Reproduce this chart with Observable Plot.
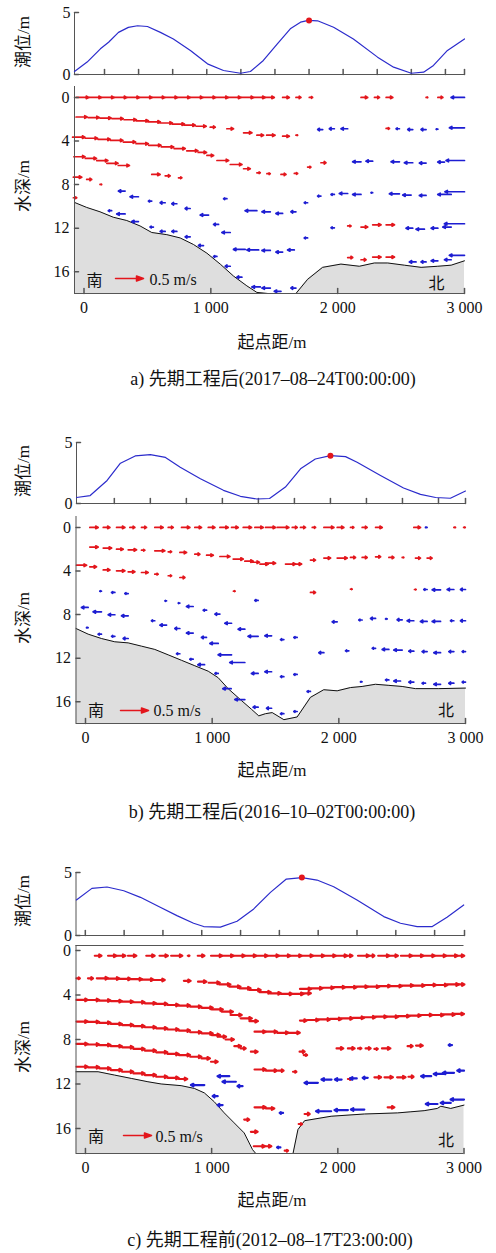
<!DOCTYPE html>
<html lang="zh">
<head>
<meta charset="utf-8">
<script src="https://cdn.jsdelivr.net/npm/d3@7"></script>
<script src="https://cdn.jsdelivr.net/npm/@observablehq/plot@0.6"></script>
<style>
html,body{margin:0;padding:0;background:#fff;}
#root{position:relative;width:496px;height:1253px;overflow:hidden;background:#fff;
 font-family:"Liberation Serif","Noto Sans CJK SC",serif;color:#111;}
#root svg{position:absolute;left:0;}
.lbl{position:absolute;white-space:nowrap;transform:translate(-50%,-50%);line-height:1;}
.rot{transform:translate(-50%,-50%) rotate(-90deg);}
</style>
</head>
<body>
<div id="root"></div>
<script>
// ---------------- shared tick values / labels ----------------
const xTickValues = [0, 1000, 2000, 3000];
const depthTickValues = [0, 4, 8, 12, 16];
const tideTickLabels = [0, 5];
const tideLevelDomain = [0, 5];
const xDomain = [-75, 3000];
const xAxisTitle = "起点距/m";
const tideAxisTitle = "潮位/m";
const depthAxisTitle = "水深/m";
const southLabel = "南";
const northLabel = "北";
const refSpeed = [0.5];
const refSpeedLabel = "0.5 m/s";
const captionA = "a) 先期工程后(2017–08–24T00:00:00)";
const captionB = "b) 先期工程后(2016–10–02T00:00:00)";
const captionC = "c) 先期工程前(2012–08–17T23:00:00)";

// ---------------- panel a ----------------
const tideA_domain = [0.12, 11.56];
const tideA_ticks = [1,2,3,4,5,6,7,8,9,10,11,11.56];
const tideA_t = [0.12,0.49,0.88,1.12,1.41,1.70,1.97,2.26,2.64,3.02,3.52,4.02,4.49,4.99,5.28,5.66,6.07,6.45,6.75,6.98,7.25,7.72,8.30,9.01,9.48,10.0,10.36,10.65,11.06,11.56];
const tideA_h = [0.24,1.0,2.07,2.6,3.4,3.8,3.93,3.87,3.4,2.87,1.94,0.86,0.32,0.1,0.24,1.13,2.47,3.68,4.22,4.36,4.33,3.81,2.87,1.4,0.59,0.1,0.19,0.73,1.94,2.87];
const tideA_now = [7.0, 4.36];
const depthA_domain = [-1, 18];
const bedA_x = [-75,21,126,231,337,442,534,653,758,863,969,1074,1179,1284,1363,1450,1560,1671,1763,1881,2026,2171,2289,2395,2526,2658,2789,2895,3000];
const bedA_z = [9.64,10.1,10.5,11.0,11.3,11.8,12.4,12.6,12.9,13.5,14.3,15.3,16.4,17.3,17.9,18.0,18.0,18.0,16.7,15.6,15.3,15.5,15.2,15.2,15.4,15.6,15.5,15.4,15.0];
// [起点距 m, 水深 m, 流速 m/s (+ 向北/右, − 向南/左)]
const velA0 = [[-60,0,0.22],[40,0,0.22],[140,0,0.22],[240,0,0.22],[340,0,0.22],[440,0,0.22],[540,0,0.22],[640,0,0.22],[740,0,0.22],[840,0,0.22],[940,0,0.22],[1040,0,0.22],[1140,0,0.22],[1240,0,0.22],[1340,0,0.2],[1421,0,0.18],[1566,0,0.12],[1671,0,0.09],[1776,0,0.06],[2184,0,0.12],[2290,0,0.09],[2382,0,0.12],[2697,0,0.03],[2790,0,0.09],[3000,0,-0.24]];
const velA1 = [[-63,1.8,0.2],[32,1.85,0.2],[126,1.9,0.2],[221,1.95,0.2],[316,2.05,0.22],[411,2.15,0.22],[505,2.25,0.22],[600,2.35,0.22],[695,2.45,0.22],[789,2.55,0.2],[884,2.65,0.18],[995,2.73,0.09],[1126,2.88,0.12],[1258,3.25,0.15],[1363,3.47,0.12],[1440,3.47,0.15],[1566,3.56,0.12],[1671,3.47,0.03],[1882,2.95,-0.09],[1974,2.88,-0.09],[2079,2.88,-0.12],[2382,2.85,0.06],[2487,2.88,-0.06],[2592,2.95,-0.09],[2697,2.95,-0.09],[2790,2.92,-0.03],[3000,2.79,-0.27]];
const velA2 = [[-90,3.65,0.22],[10,3.75,0.22],[110,3.85,0.22],[210,3.95,0.22],[310,4.1,0.22],[410,4.25,0.22],[510,4.4,0.22],[610,4.55,0.22],[710,4.7,0.2],[810,4.9,0.2],[900,5.05,0.15],[969,5.33,0.12],[1048,5.79,0.21],[1153,6.16,0.21],[1258,6.55,0.12],[1363,6.92,0.06],[1442,7.0,0.06],[1553,7.07,0.09],[1658,6.98,0.06],[1763,6.4,0.06],[1868,6.0,0.09],[2184,5.91,-0.15],[2276,5.85,-0.12],[2487,5.91,-0.15],[2592,6.0,-0.15],[2697,6.03,-0.12],[2842,5.94,-0.12],[3000,5.79,-0.33]];
const velA3 = [[-80,5.45,0.2],[10,5.6,0.2],[100,5.8,0.2],[180,6.05,0.2],[270,6.25,0.2],[534,7.07,0.15],[640,7.2,0.09],[745,7.38,0.06],[1127,9.3,-0.06],[1363,10.4,-0.21],[1469,10.5,-0.15],[1566,10.65,-0.12],[1671,10.5,-0.09],[1763,9.67,-0.06],[1868,9.06,-0.06],[1974,8.91,-0.06],[2079,8.82,-0.15],[2184,8.91,-0.15],[2276,8.75,-0.03],[2487,8.85,-0.18],[2579,8.97,-0.15],[2697,9.0,-0.12],[2895,8.91,-0.24],[3000,8.66,-0.35]];
const velA4 = [[-84,7.32,0.15],[21,7.53,0.09],[126,7.99,0.03],[324,8.6,-0.12],[429,9.12,-0.15],[534,9.52,-0.06],[640,9.67,-0.09],[732,9.76,-0.09],[837,10.2,-0.09],[982,10.8,-0.15],[1061,11.66,-0.09],[1153,12.4,-0.15],[1271,13.95,-0.21],[1377,14.0,-0.21],[1469,14.05,-0.15],[1566,14.2,-0.12],[1658,14.0,-0.12],[1763,12.9,-0.06],[1974,11.97,-0.06],[2079,11.8,0.06],[2184,11.9,0.12],[2276,11.7,0.15],[2382,11.7,0.15],[2592,12.0,-0.12],[2684,12.1,-0.15],[2790,12.0,-0.12],[2895,11.9,-0.15],[3000,11.6,-0.36]];
const velA5 = [[-84,9.21,0.06],[218,10.4,-0.06],[324,10.7,-0.15],[429,11.4,-0.12],[547,11.9,-0.06],[640,12.3,-0.09],[732,12.3,-0.09],[837,12.8,-0.09],[942,13.6,-0.09],[1048,14.6,-0.06],[1153,15.5,-0.09],[1245,16.5,-0.09],[1390,17.4,-0.15],[1469,17.5,-0.15],[1553,17.8,-0.12],[1671,17.5,-0.09],[2079,14.7,0.09],[2184,14.9,0.09],[2276,14.66,0.15],[2382,14.66,0.15],[2618,15.1,-0.12],[2697,15.1,-0.09],[2790,15.0,-0.12],[2895,14.9,-0.12],[3000,14.5,-0.27]];

// ---------------- panel b ----------------
const tideB_domain = [-0.05, 10.75];
const tideB_ticks = [1,2,3,4,5,6,7,8,9,10,10.75];
const tideB_t = [-0.05,0.33,0.80,1.17,1.58,2.0,2.42,2.83,3.39,4.03,4.5,4.96,5.31,5.75,6.17,6.58,7.0,7.42,7.74,8.39,9.03,9.5,9.92,10.33,10.75];
const tideB_h = [0.49,0.65,1.89,3.3,3.9,4.0,3.78,2.97,2.03,1.08,0.59,0.37,0.41,1.35,2.84,3.65,3.92,3.84,3.38,2.30,1.27,0.75,0.49,0.43,1.02];
const tideB_now = [7.0, 3.92];
const depthB_domain = [-1, 18];
const bedB_x = [-75,21,126,231,337,442,547,653,758,863,969,1048,1126,1232,1311,1368,1421,1474,1566,1671,1776,1881,1987,2092,2184,2289,2395,2500,2605,2789,3000];
const bedB_z = [9.28,9.8,10.2,10.5,10.6,10.9,11.2,11.7,12.2,12.7,13.2,13.8,14.8,15.9,16.7,17.3,17.1,17.0,17.65,17.4,15.6,14.9,15.0,14.7,14.6,14.4,14.5,14.6,14.8,14.8,14.75];
const velB0 = [[34,0,0.15],[140,0,0.12],[245,0,0.15],[350,0,0.09],[442,0,0.09],[547,0,0.15],[653,0,0.09],[758,0,0.15],[863,0,0.12],[969,0,0.12],[1061,0,0.15],[1153,0,0.12],[1245,0,0.15],[1337,0,0.15],[1421,0,0.18],[1513,0,0.21],[1632,0,0.09],[1697,0,0.09],[1790,0,0.06],[1882,0,0.18],[1987,0,0.12],[2092,0,0.06],[2184,0,0.09],[2290,0,0.12],[2592,0,0.12],[2697,0,-0.03],[2908,0,0.03],[2985,0,0.03]];
const velB1 = [[34,1.81,0.15],[140,1.9,0.15],[245,2.0,0.12],[337,2.06,0.15],[442,2.09,0.06],[547,2.15,0.18],[653,2.24,0.06],[745,2.3,0.12],[863,2.46,0.09],[956,2.55,0.12],[1061,2.67,0.18],[1166,2.91,0.18],[1258,3.1,0.15],[1320,3.2,0.12],[1377,3.37,0.15],[1421,3.28,0.18],[1579,3.37,0.18],[1640,3.37,0.15],[1776,3.0,0.09],[1882,2.82,0.12],[1987,2.82,0.18],[2092,2.76,0.09],[2184,2.76,0.09],[2290,2.7,0.09],[2395,2.76,0.09],[2500,2.76,0.03],[2605,2.82,0.09],[2697,2.82,0.09]];
const velB2 = [[-71,3.47,0.18],[34,3.62,0.12],[140,3.9,0.12],[245,3.99,0.15],[337,4.08,0.12],[442,4.14,0.12],[547,4.29,0.06],[653,4.44,0.06],[745,4.6,0.09],[1168,5.85,0.03],[1363,6.7,-0.06],[1776,5.97,0.09],[2092,5.67,0.03],[2597,5.7,0.03],[2697,5.7,-0.06],[2803,5.73,-0.15],[2908,5.7,-0.12],[3000,5.7,-0.09]];
const velB3 = [[126,5.85,-0.03],[232,5.97,-0.06],[337,6.07,-0.06],[640,6.74,-0.03],[745,6.95,-0.03],[850,7.26,-0.12],[956,7.6,-0.06],[1061,7.96,-0.09],[1153,8.8,-0.12],[1258,9.34,-0.12],[1363,10.0,-0.18],[1469,9.95,-0.12],[1566,10.3,-0.06],[1671,10.1,-0.06],[1987,8.67,-0.09],[2184,8.5,-0.06],[2290,8.36,-0.09],[2382,8.4,-0.03],[2500,8.48,-0.09],[2592,8.57,-0.12],[2697,8.63,-0.12],[2803,8.63,-0.15],[2908,8.57,-0.06],[3000,8.57,-0.09]];
const velB4 = [[21,7.35,-0.12],[126,7.75,-0.15],[232,8.02,-0.12],[337,8.12,-0.12],[547,8.57,-0.06],[640,8.97,-0.12],[745,9.28,-0.09],[850,9.7,-0.12],[955,10.1,-0.09],[1048,10.65,-0.15],[1153,11.7,-0.24],[1258,12.4,-0.27],[1363,13.4,-0.12],[1469,13.25,-0.12],[1566,13.7,-0.06],[1671,13.5,-0.06],[1882,11.5,-0.09],[2079,11.33,-0.06],[2290,11.1,-0.06],[2395,11.2,-0.12],[2500,11.26,-0.15],[2592,11.36,-0.09],[2697,11.4,-0.09],[2803,11.5,-0.12],[2908,11.4,-0.09],[3000,11.4,-0.06]];
const velB5 = [[21,9.2,-0.03],[126,9.8,-0.06],[232,10.0,-0.06],[337,10.2,-0.09],[745,11.6,-0.06],[850,12.1,-0.06],[940,12.6,-0.12],[1048,13.4,-0.06],[1150,14.8,-0.15],[1258,15.8,-0.18],[1363,16.5,-0.09],[1469,16.6,-0.09],[1566,17.1,-0.06],[1671,16.9,-0.06],[1776,15.06,-0.06],[2184,14.17,-0.03],[2395,14.0,-0.06],[2487,14.1,-0.12],[2592,14.2,-0.09],[2684,14.3,-0.06],[2803,14.4,-0.12],[2908,14.3,-0.09],[3000,14.2,-0.06]];

// ---------------- panel c ----------------
const tideC_domain = [0.76, 10.77];
const tideC_ticks = [1,2,3,4,5,6,7,8,9,10,10.77];
const tideC_t = [0.77,1.17,1.56,1.99,2.42,2.93,3.36,3.79,4.05,4.48,4.91,5.34,5.77,6.18,6.58,6.97,7.40,8.0,8.69,9.12,9.55,9.94,10.32,10.75];
const tideC_h = [2.82,3.74,3.85,3.55,3.03,2.24,1.58,0.97,0.71,0.66,1.13,2.11,3.42,4.48,4.6,4.4,3.87,2.82,1.5,0.97,0.71,0.71,1.45,2.42];
const tideC_now = [6.58, 4.6];
const depthC_domain = [-0.45, 18.25];
const bedC_x = [-75,100,231,363,495,600,758,863,942,1021,1100,1179,1258,1324,1350,1645,1684,1737,1947,2210,2474,2579,2684,2789,2816,2895,3000];
const bedC_z = [10.9,10.9,11.2,11.5,11.8,12.0,12.15,12.4,12.8,13.6,14.6,15.5,16.4,17.9,18.25,18.25,16.1,15.3,14.9,14.7,14.6,14.5,14.4,14.2,14.0,14.2,13.9];
const velC0 = [[74,0.47,0.12],[179,0.47,0.15],[250,0.47,0.15],[337,0.47,0.15],[482,0.47,0.15],[587,0.47,0.15],[679,0.47,0.2],[811,0.47,0.03],[890,0.47,0.12],[995,0.47,0.2],[1085,0.47,0.2],[1175,0.47,0.2],[1265,0.47,0.2],[1355,0.47,0.2],[1445,0.47,0.2],[1535,0.47,0.2],[1625,0.47,0.2],[1715,0.47,0.2],[1805,0.47,0.2],[1895,0.47,0.2],[1985,0.47,0.2],[2050,0.47,0.15],[2160,0.47,0.2],[2250,0.47,0.09],[2320,0.47,0.2],[2410,0.47,0.15],[2500,0.47,0.2],[2590,0.47,0.2],[2680,0.47,0.2],[2770,0.47,0.2],[2860,0.47,0.2],[2940,0.47,0.14]];
const velC1 = [[-71,2.5,0.06],[20,2.5,0.09],[90,2.5,0.2],[180,2.52,0.2],[270,2.55,0.2],[360,2.58,0.2],[450,2.62,0.2],[540,2.65,0.2],[780,2.73,0.12],[892,2.8,0.15],[976,2.9,0.2],[1060,3.05,0.2],[1140,3.25,0.2],[1220,3.4,0.2],[1300,3.55,0.2],[1380,3.75,0.2],[1460,3.85,0.2],[1550,3.9,0.2],[1640,3.9,0.2],[1720,3.85,0.15],[1700,3.45,0.2],[1790,3.4,0.2],[1880,3.35,0.2],[1970,3.3,0.2],[2060,3.3,0.2],[2150,3.25,0.2],[2240,3.25,0.2],[2330,3.2,0.2],[2420,3.2,0.2],[2510,3.15,0.2],[2600,3.15,0.2],[2690,3.1,0.2],[2780,3.1,0.2],[2870,3.05,0.2],[2950,3.05,0.12]];
const velC2 = [[-71,4.44,0.2],[20,4.45,0.2],[110,4.5,0.2],[200,4.55,0.2],[290,4.6,0.2],[380,4.65,0.2],[470,4.75,0.2],[560,4.8,0.2],[650,4.9,0.2],[740,4.95,0.2],[830,5.05,0.2],[920,5.15,0.2],[1000,5.3,0.2],[1080,5.5,0.2],[1150,5.8,0.2],[1230,6.1,0.2],[1300,6.35,0.15],[1340,7.3,0.2],[1430,7.3,0.2],[1520,7.4,0.2],[1610,7.4,0.2],[1700,6.3,0.12],[1760,6.25,0.2],[1850,6.2,0.2],[1940,6.15,0.2],[2030,6.1,0.2],[2120,6.05,0.2],[2210,6.0,0.2],[2300,5.95,0.2],[2390,5.95,0.2],[2480,5.9,0.2],[2570,5.85,0.2],[2660,5.8,0.2],[2750,5.8,0.2],[2840,5.75,0.2],[2920,5.7,0.18]];
const velC3 = [[-71,6.39,0.2],[20,6.42,0.2],[110,6.5,0.2],[200,6.6,0.2],[290,6.7,0.2],[380,6.8,0.2],[470,6.9,0.2],[560,7.0,0.2],[650,7.1,0.2],[740,7.2,0.2],[830,7.35,0.2],[920,7.45,0.2],[1000,7.6,0.15],[1048,7.75,0.15],[1110,8.0,0.15],[1180,8.6,0.12],[1230,8.8,0.09],[1311,9.1,0.12],[1340,10.7,0.2],[1430,10.8,0.2],[1530,10.8,0.09],[1645,10.9,0.06],[1697,9.1,0.09],[1730,9.4,0.06],[1990,8.8,0.12],[2080,8.8,0.12],[2160,8.8,0.06],[2220,8.8,0.09],[2290,8.85,0.06],[2350,8.8,0.15],[2553,8.6,0.09],[2620,8.55,0.12],[2905,8.5,-0.06]];
const velC4 = [[-71,8.4,0.2],[20,8.45,0.2],[110,8.5,0.2],[200,8.6,0.2],[290,8.7,0.2],[380,8.85,0.2],[470,9.0,0.2],[560,9.15,0.2],[650,9.3,0.2],[740,9.4,0.2],[830,9.55,0.2],[920,9.7,0.15],[995,10.0,0.12],[1140,11.3,-0.21],[1192,11.8,-0.24],[1245,12.2,-0.09],[1340,14.1,0.2],[1430,14.2,0.15],[1566,14.6,-0.06],[1842,11.9,-0.24],[1950,11.6,-0.18],[2030,11.6,-0.12],[2080,11.55,0.06],[2150,11.5,-0.12],[2237,11.45,-0.09],[2290,11.4,0.12],[2370,11.4,0.15],[2470,11.4,0.15],[2560,11.35,0.09],[2740,11.3,-0.18],[2840,11.1,-0.18],[2921,11.0,-0.2],[3000,10.8,-0.12]];
const velC5 = [[-71,10.45,0.2],[20,10.5,0.2],[110,10.6,0.2],[200,10.75,0.2],[290,10.9,0.2],[380,11.05,0.2],[470,11.2,0.2],[560,11.35,0.2],[650,11.45,0.2],[740,11.55,0.15],[942,12.1,-0.24],[1048,13.1,-0.09],[1087,13.9,-0.09],[1258,15.2,0.09],[1311,16.3,0.12],[1334,17.6,0.2],[1420,17.6,0.12],[1545,17.7,-0.06],[1579,18.0,0.06],[1690,15.6,0.06],[1737,14.7,0.09],[1947,14.45,-0.27],[2080,14.35,-0.24],[2210,14.3,-0.24],[2395,14.1,0.12],[2790,13.8,-0.21],[2895,13.7,-0.18],[3000,13.4,-0.24]];

// ---------------- styling ----------------
const W = 496;
const RED = "#e3161c", BLUE = "#1d1dd2", TIDE = "#2b2bcc", AXIS = "#555", BED = "#dedede";
const FONT = '"Liberation Serif","Noto Sans CJK SC",serif';
const tickShape = {draw(ctx, l) { ctx.moveTo(0, 0); ctx.lineTo(0, -l); }};
// small-headed arrow for the velocity dashes
const dashShape = {draw(ctx, l) {
  const h = Math.min(2.5, l * 0.35), w = Math.min(1.3, l * 0.25);
  ctx.moveTo(0, 0); ctx.lineTo(0, -l);
  ctx.moveTo(-w, h - l); ctx.lineTo(0, -l); ctx.lineTo(w, h - l);
}};
// legend arrow with a filled head
const legendShape = {draw(ctx, l) {
  ctx.moveTo(0, 0); ctx.lineTo(0, -l + 6);
  ctx.moveTo(-2.6, -l + 7); ctx.lineTo(0, -l); ctx.lineTo(2.6, -l + 7); ctx.closePath();
}};
const fmt = d => d3.format(",")(d).replace(/,/g, " ");
const style = () => ({fontFamily: FONT, fontSize: "16px", color: "#111", background: "transparent", overflow: "visible"});

const panels = [
  {tideT: tideA_t, tideH: tideA_h, tideNow: tideA_now, tideTicks: tideA_ticks, tideDomain: tideA_domain,
   bedX: bedA_x, bedZ: bedA_z, layers: [velA0, velA1, velA2, velA3, velA4, velA5], yDomain: depthA_domain,
   tideBox: {left: 74, right: 464, top: 12, bottom: 74},
   secBox: {left: 74, right: 464, top: 86, bottom: 293}, topLine: false, sw: 1.7,
   leg: {nan: [20, -12.5], arrow: [41, -15], text: [75, -14], bei: [-28, -10]},
   xlabelY: 342, caption: captionA, captionX: 273, captionY: 379, tideLabelY: 42, depthLabelY: 186},
  {tideT: tideB_t, tideH: tideB_h, tideNow: tideB_now, tideTicks: tideB_ticks, tideDomain: tideB_domain,
   bedX: bedB_x, bedZ: bedB_z, layers: [velB0, velB1, velB2, velB3, velB4, velB5], yDomain: depthB_domain,
   tideBox: {left: 76, right: 465, top: 442, bottom: 503},
   secBox: {left: 75.5, right: 465, top: 516, bottom: 723}, topLine: false, sw: 1.7,
   leg: {nan: [20, -13], arrow: [44.5, -13], text: [77.5, -13], bei: [-19.5, -13]},
   xlabelY: 770, caption: captionB, captionX: 272, captionY: 812, tideLabelY: 471, depthLabelY: 618},
  {tideT: tideC_t, tideH: tideC_h, tideNow: tideC_now, tideTicks: tideC_ticks, tideDomain: tideC_domain,
   bedX: bedC_x, bedZ: bedC_z, layers: [velC0, velC1, velC2, velC3, velC4, velC5], yDomain: depthC_domain,
   tideBox: {left: 75.5, right: 464, top: 872, bottom: 935},
   secBox: {left: 75.5, right: 463.5, top: 945, bottom: 1153}, topLine: true, sw: 2.2,
   leg: {nan: [20, -17], arrow: [47.5, -18], text: [79.5, -17], bei: [-18, -13]},
   xlabelY: 1200, caption: captionC, captionX: 270, captionY: 1240, tideLabelY: 901, depthLabelY: 1047}
];

function tidePlot(p) {
  const b = p.tideBox;
  const pts = p.tideT.map((t, i) => ({t, h: p.tideH[i]}));
  const svg = Plot.plot({
    width: W, height: b.bottom - b.top + 16,
    marginLeft: b.left, marginRight: W - b.right, marginTop: 8, marginBottom: 8,
    style: style(),
    x: {domain: p.tideDomain, axis: null},
    y: {domain: tideLevelDomain, axis: null},
    marks: [
      Plot.ruleX([p.tideDomain[0]], {stroke: AXIS}),
      Plot.ruleY([tideLevelDomain[0]], {stroke: AXIS}),
      Plot.vector(p.tideTicks, {x: d => d, frameAnchor: "bottom", length: 5, rotate: 0, anchor: "start", shape: tickShape, stroke: AXIS}),
      Plot.vector(tideTickLabels, {y: d => d, frameAnchor: "left", length: 4, rotate: 90, anchor: "start", shape: tickShape, stroke: AXIS}),
      Plot.axisY({ticks: tideTickLabels, tickFormat: d => String(d), tickSize: 0, tickPadding: 4, label: null}),
      Plot.line(pts, {x: "t", y: "h", stroke: TIDE, strokeWidth: 1.2}),
      Plot.dot([p.tideNow], {x: d => d[0], y: d => d[1], r: 3, fill: RED})
    ]
  });
  svg.style.top = (b.top - 8) + "px";
  return svg;
}

function sectionPlot(p) {
  const b = p.secBox;
  const bed = p.bedX.map((x, i) => ({x, z: p.bedZ[i]}));
  const vel = p.layers.flat();
  const yb = p.yDomain[1];
  const marks = [
    Plot.areaY(bed, {x: "x", y1: "z", y2: yb, fill: BED}),
    Plot.line(bed, {x: "x", y: "z", stroke: "#111", strokeWidth: 1}),
    Plot.vector(vel, {filter: d => d[2] >= 0, x: d => d[0], y: d => d[1], length: d => d[2], rotate: 90, anchor: "start", shape: dashShape, stroke: RED, strokeWidth: p.sw}),
    Plot.vector(vel, {filter: d => d[2] < 0, x: d => d[0], y: d => d[1], length: d => -d[2], rotate: -90, anchor: "start", shape: dashShape, stroke: BLUE, strokeWidth: p.sw}),
    Plot.ruleX([xDomain[0]], {stroke: AXIS}),
    Plot.ruleY([yb], {stroke: AXIS}),
    Plot.vector(xTickValues, {x: d => d, frameAnchor: "bottom", length: 5, rotate: 0, anchor: "start", shape: tickShape, stroke: AXIS}),
    Plot.vector(depthTickValues, {y: d => d, frameAnchor: "left", length: 4, rotate: 90, anchor: "start", shape: tickShape, stroke: AXIS}),
    Plot.axisX({ticks: xTickValues, tickFormat: fmt, tickSize: 0, tickPadding: 8, label: null}),
    Plot.axisY({ticks: depthTickValues, tickFormat: d => String(d), tickSize: 0, tickPadding: 5, label: null}),
    Plot.text([southLabel], {text: d => d, frameAnchor: "bottom-left", textAnchor: "middle", lineAnchor: "middle", dx: p.leg.nan[0], dy: p.leg.nan[1], fill: "#111"}),
    Plot.vector(refSpeed, {frameAnchor: "bottom-left", dx: p.leg.arrow[0], dy: p.leg.arrow[1], length: d => d, rotate: 90, anchor: "start", shape: legendShape, stroke: RED, fill: RED, strokeWidth: 1.5}),
    Plot.text([refSpeedLabel], {text: d => d, frameAnchor: "bottom-left", textAnchor: "start", lineAnchor: "middle", dx: p.leg.text[0], dy: p.leg.text[1], fill: "#111"}),
    Plot.text([northLabel], {text: d => d, frameAnchor: "bottom-right", textAnchor: "middle", lineAnchor: "middle", dx: p.leg.bei[0], dy: p.leg.bei[1], fill: "#111"})
  ];
  if (p.topLine) marks.push(Plot.ruleY([p.yDomain[0]], {stroke: AXIS}));
  const svg = Plot.plot({
    width: W, height: b.bottom - b.top + 40,
    marginLeft: b.left, marginRight: W - b.right, marginTop: 10, marginBottom: 30,
    style: style(),
    x: {domain: xDomain, axis: null},
    y: {domain: p.yDomain, reverse: true, axis: null},
    length: {domain: [0, 0.5], range: [0, 28]},
    marks
  });
  svg.style.top = (b.top - 10) + "px";
  return svg;
}

function addLabel(root, text, cx, cy, size, rotated) {
  const d = document.createElement("div");
  d.className = "lbl" + (rotated ? " rot" : "");
  d.textContent = text;
  d.style.left = cx + "px";
  d.style.top = cy + "px";
  d.style.fontSize = size + "px";
  root.appendChild(d);
}

const root = document.getElementById("root");
for (const p of panels) {
  root.appendChild(sectionPlot(p));
  root.appendChild(tidePlot(p));
  addLabel(root, tideAxisTitle, 23, p.tideLabelY, 17, true);
  addLabel(root, depthAxisTitle, 23, p.depthLabelY, 17, true);
  addLabel(root, xAxisTitle, 272, p.xlabelY, 17, false);
  addLabel(root, p.caption, p.captionX, p.captionY, 18, false);
}
</script>
</body>
</html>
